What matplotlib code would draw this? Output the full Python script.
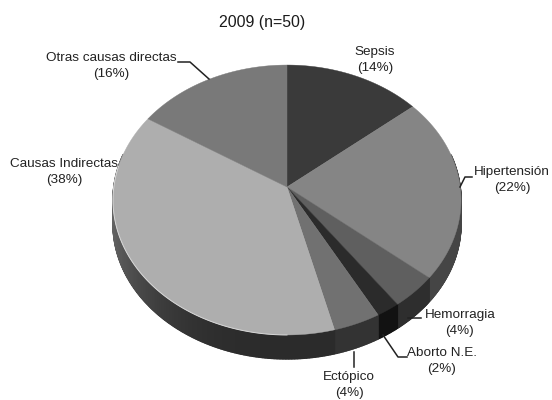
import numpy as np
import matplotlib
matplotlib.use("Agg")
import matplotlib.pyplot as plt
from matplotlib.collections import PolyCollection

plt.rcParams['font.family'] = ['Liberation Sans', 'DejaVu Sans']

causas = ['Sepsis', 'Hipertensión', 'Hemorragia', 'Aborto N.E.', 'Ectópico',
          'Causas Indirectas', 'Otras causas directas']
valores = [14, 22, 4, 2, 4, 38, 16]
grises = ['#3a3a3a', '#858585', '#5f5f5f', '#2b2b2b', '#717171', '#aeaeae', '#797979']
lados = [0.28, 0.27, 0.18, 0.07, 0.20, 0.17, 0.30]

# pie geometry, in figure pixels
cx, cy = 287, 187
sx, sy, k = 173.2, 133.7, 0.0963
grosor = 24

# label text centre and leader polyline
etiq_pos = [(375, 60), (512, 180), (460, 323), (442, 361), (349, 385), (64, 172), (111, 66)]
guias = [None,
         [(460, 187), (465, 177), (472, 177)],
         [(408, 318), (421, 318)],
         [(383, 335), (398, 357), (407, 357)],
         [(354, 352), (354, 367)],
         None,
         [(178, 62), (190, 62), (209, 79)]]


def borde(a):
    # tilted disc: clockwise angle from the top to pixel position
    x, y = np.sin(a), np.cos(a)
    d = 1 + k * y
    return cx + sx * x / d, cy - sy * y / d


fig = plt.figure(figsize=(5.52, 4), dpi=100)
ax = fig.add_axes([0, 0, 1, 1])
ax.set_xlim(0, 552)
ax.set_ylim(400, 0)
ax.axis('off')

fr = np.cumsum([0] + valores) / sum(valores) * 2 * np.pi

# rim under the top face, shaded by facet
for i in range(len(valores)):
    t = np.linspace(fr[i], fr[i + 1], max(6, valores[i] * 8))
    x, y = borde(t)
    quads = []
    cols = []
    for j in range(len(t) - 1):
        m = (t[j] + t[j + 1]) / 2
        if np.cos(m) > 0.25:
            continue
        quads.append([(x[j], y[j]), (x[j + 1], y[j + 1]),
                      (x[j + 1], y[j + 1] + grosor), (x[j], y[j] + grosor)])
        g = lados[i]
        if i == 5:
            # lighter towards the left end of the big slice
            g = lados[i] + 0.22 * max(0, -np.sin(m)) ** 3
        cols.append((g, g, g))
    if quads:
        ax.add_collection(PolyCollection(quads, facecolors=cols, edgecolors=cols,
                                         linewidths=1.0, zorder=1))

# top face
for i in range(len(valores)):
    t = np.linspace(fr[i], fr[i + 1], max(6, valores[i] * 8))
    x, y = borde(t)
    ax.fill(np.r_[cx, x], np.r_[cy, y], color=grises[i], lw=0.3, zorder=2)

# thin highlight along the front edge
t = np.linspace(np.pi * 1.0, np.pi * 1.55, 100)
x, y = borde(t)
ax.plot(x, y, color='#d8d8d8', lw=0.7, zorder=3)

for guia in guias:
    if guia:
        ax.plot(*zip(*guia), color='#222222', lw=1.1, zorder=4)

for nombre, v, (px, py) in zip(causas, valores, etiq_pos):
    ax.text(px, py, '%s\n(%d%%)' % (nombre, v), ha='center', va='center',
            fontsize=9.7, color='#222222', linespacing=1.45, zorder=5)

ax.text(262, 22, '2009 (n=50)', ha='center', va='center', fontsize=11.4, color='#1a1a1a')

fig.savefig('out.png', dpi=100)
